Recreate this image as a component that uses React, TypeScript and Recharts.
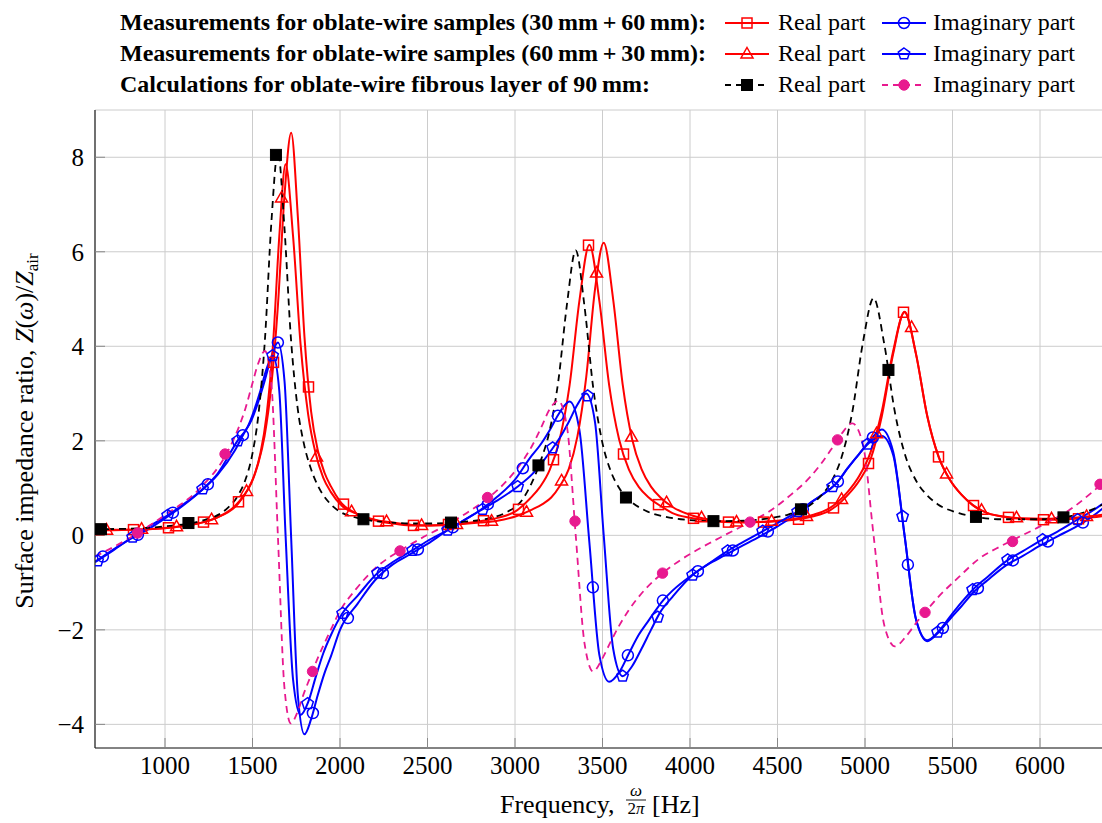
import React from 'react';
import { ComposedChart, Line, XAxis, YAxis, CartesianGrid } from 'recharts';

const FONT = '"Liberation Serif", "Times New Roman", Times, serif';

const xTicks = [1000, 1500, 2000, 2500, 3000, 3500, 4000, 4500, 5000, 5500, 6000];
const yTicks = [-4, -2, 0, 2, 4, 6, 8];

// Calculation (90 mm layer)
const calcFreq = [600, 800, 1000, 1201, 1349, 1423, 1460, 1497, 1534, 1571, 1608, 1645, 1682, 1719, 1756, 1793, 1830, 1867, 1941, 2000, 2089, 2200, 2300, 2400, 2500, 2600, 2747, 2850, 2947, 3047, 3097, 3147, 3197, 3247, 3297, 3347, 3397, 3447, 3497, 3547, 3597, 3647, 3747, 3850, 3947, 4150, 4317, 4450, 4561, 4683, 4744, 4805, 4866, 4927, 4988, 5049, 5110, 5171, 5232, 5293, 5354, 5415, 5537, 5650, 5781, 6000, 6200, 6300, 6400];
const calcReal = [0.13, 0.14, 0.19, 0.30, 0.55, 0.88, 1.18, 1.68, 2.56, 4.14, 6.63, 8.12, 6.54, 4.2, 2.75, 1.95, 1.45, 1.1, 0.68, 0.5, 0.38, 0.3, 0.27, 0.25, 0.25, 0.26, 0.30, 0.36, 0.48, 0.78, 1.12, 1.58, 2.2, 3.25, 4.89, 6.03, 4.85, 3.12, 2.0, 1.36, 0.99, 0.77, 0.52, 0.4, 0.34, 0.30, 0.31, 0.36, 0.44, 0.63, 0.82, 1.12, 1.65, 2.60, 4.08, 5.02, 4.05, 2.60, 1.67, 1.15, 0.85, 0.66, 0.47, 0.38, 0.34, 0.34, 0.43, 0.55, 0.74];
const calcImag = [-0.45, -0.05, 0.43, 1.0, 1.71, 2.30, 2.69, 3.18, 3.65, 3.9, 3.2, 0.0, -3.2, -3.98, -3.75, -3.35, -3.0, -2.65, -2.05, -1.6, -1.15, -0.7, -0.42, -0.2, 0.01, 0.2, 0.53, 0.8, 1.13, 1.59, 1.89, 2.26, 2.66, 2.85, 2.3, 0.0, -2.28, -2.88, -2.62, -2.25, -1.9, -1.6, -1.13, -0.78, -0.52, -0.09, 0.23, 0.5, 0.81, 1.22, 1.49, 1.81, 2.15, 2.37, 1.93, 0.0, -1.9, -2.35, -2.15, -1.85, -1.58, -1.32, -0.88, -0.5, -0.22, 0.19, 0.62, 0.92, 1.24];

// Measurements 30 mm + 60 mm
const m1Freq = [600, 700, 800, 900, 1000, 1100, 1200, 1300, 1400, 1450, 1493, 1531, 1569, 1607, 1645, 1683, 1721, 1759, 1797, 1835, 1873, 1911, 1949, 2000, 2100, 2200, 2300, 2400, 2500, 2600, 2700, 2800, 2900, 3000, 3086, 3142, 3199, 3255, 3312, 3368, 3425, 3482, 3538, 3595, 3651, 3708, 3764, 3850, 3900, 4000, 4100, 4200, 4300, 4400, 4500, 4600, 4700, 4800, 4836, 4901, 4966, 5031, 5096, 5161, 5226, 5291, 5356, 5421, 5486, 5551, 5616, 5700, 5800, 5900, 6000, 6100, 6200, 6300, 6400];
const m1Real = [0.12, 0.12, 0.12, 0.13, 0.15, 0.19, 0.26, 0.38, 0.62, 0.84, 1.1, 1.5, 2.1, 3.15, 4.85, 7.2, 8.52, 6.75, 4.2, 2.62, 1.8, 1.33, 1.03, 0.72, 0.45, 0.32, 0.25, 0.21, 0.21, 0.22, 0.25, 0.3, 0.37, 0.5, 0.78, 1.02, 1.39, 2.03, 3.18, 4.96, 6.15, 4.96, 3.18, 2.03, 1.39, 1.02, 0.80, 0.58, 0.47, 0.37, 0.31, 0.28, 0.27, 0.28, 0.30, 0.33, 0.40, 0.53, 0.62, 0.85, 1.15, 1.6, 2.52, 3.84, 4.73, 3.84, 2.52, 1.66, 1.17, 0.86, 0.64, 0.47, 0.39, 0.35, 0.33, 0.33, 0.35, 0.38, 0.43];
const m1Imag = [-0.56, -0.31, -0.08, 0.12, 0.36, 0.62, 0.92, 1.28, 1.8, 2.15, 2.43, 2.80, 3.26, 3.77, 4.08, 3.26, -0.06, -3.38, -4.21, -3.89, -3.38, -2.92, -2.55, -2.0, -1.45, -0.95, -0.62, -0.4, -0.18, 0.07, 0.3, 0.53, 0.82, 1.18, 1.64, 1.90, 2.23, 2.60, 2.83, 2.23, -0.15, -2.53, -3.1, -2.90, -2.5, -2.1, -1.8, -1.36, -1.17, -0.87, -0.62, -0.42, -0.22, -0.02, 0.19, 0.43, 0.72, 0.98, 1.1, 1.42, 1.72, 2.02, 2.24, 1.77, 0.0, -1.77, -2.24, -2.05, -1.77, -1.5, -1.22, -0.95, -0.65, -0.44, -0.22, -0.02, 0.17, 0.4, 0.7];

// Measurements 60 mm + 30 mm
const m2Freq = [600, 700, 813, 900, 1013, 1100, 1222, 1300, 1416, 1473, 1509, 1545, 1581, 1617, 1653, 1689, 1732, 1775, 1818, 1861, 1904, 1947, 2012, 2100, 2212, 2300, 2412, 2500, 2600, 2700, 2800, 2900, 3018, 3100, 3157, 3207, 3257, 3307, 3357, 3407, 3457, 3507, 3561, 3615, 3669, 3723, 3777, 3831, 3900, 4012, 4100, 4216, 4300, 4422, 4500, 4600, 4700, 4800, 4836, 4901, 4966, 5031, 5096, 5161, 5226, 5291, 5356, 5421, 5486, 5551, 5616, 5700, 5813, 5900, 6013, 6100, 6213, 6300, 6400];
const m2Real = [0.11, 0.11, 0.12, 0.13, 0.16, 0.2, 0.28, 0.38, 0.66, 0.97, 1.26, 1.73, 2.56, 4.03, 6.32, 7.85, 6.32, 4.03, 2.56, 1.73, 1.22, 0.92, 0.62, 0.45, 0.32, 0.27, 0.22, 0.21, 0.22, 0.24, 0.27, 0.31, 0.42, 0.55, 0.66, 0.80, 1.05, 1.40, 2.1, 3.35, 5.2, 6.19, 4.99, 3.20, 2.04, 1.40, 1.03, 0.80, 0.6, 0.42, 0.34, 0.29, 0.28, 0.29, 0.31, 0.35, 0.43, 0.58, 0.68, 0.92, 1.25, 1.75, 2.62, 3.9, 4.72, 3.85, 2.52, 1.66, 1.17, 0.86, 0.64, 0.47, 0.39, 0.36, 0.35, 0.36, 0.38, 0.41, 0.46];
const m2Imag = [-0.57, -0.33, -0.04, 0.17, 0.42, 0.64, 1.0, 1.3, 2.01, 2.30, 2.64, 3.06, 3.53, 3.80, 3.06, 0.0, -3.06, -3.80, -3.53, -3.0, -2.5, -2.12, -1.66, -1.28, -0.81, -0.57, -0.32, -0.12, 0.08, 0.3, 0.52, 0.74, 1.04, 1.3, 1.55, 1.80, 2.07, 2.40, 2.77, 3.00, 2.40, 0.0, -2.40, -2.98, -2.77, -2.40, -2.0, -1.62, -1.3, -0.85, -0.62, -0.33, -0.15, 0.1, 0.26, 0.47, 0.72, 0.98, 1.1, 1.42, 1.72, 1.98, 2.1, 1.7, 0.0, -1.77, -2.22, -2.03, -1.72, -1.42, -1.15, -0.88, -0.53, -0.34, -0.09, 0.08, 0.33, 0.52, 0.78];

// Marker samples
const m1RealMarkF = [620, 820, 1020, 1220, 1420, 1620, 1820, 2020, 2220, 2420, 2620, 2820, 3020, 3220, 3420, 3620, 3820, 4020, 4220, 4420, 4620, 4820, 5020, 5220, 5420, 5620, 5820, 6020, 6220];
const m1RealMarkV = [0.12, 0.12, 0.16, 0.28, 0.71, 3.66, 3.14, 0.66, 0.3, 0.21, 0.23, 0.31, 0.55, 1.6, 6.14, 1.72, 0.65, 0.36, 0.28, 0.28, 0.34, 0.58, 1.52, 4.72, 1.66, 0.63, 0.38, 0.33, 0.35];
const m1ImagMarkF = [645, 845, 1045, 1245, 1445, 1645, 1845, 2045, 2245, 2445, 2645, 2845, 3045, 3245, 3445, 3645, 3845, 4045, 4245, 4445, 4645, 4845, 5045, 5245, 5445, 5645, 5845, 6045, 6245];
const m1ImagMarkV = [-0.45, 0.01, 0.48, 1.08, 2.12, 4.08, -3.76, -1.75, -0.8, -0.3, 0.17, 0.66, 1.42, 2.53, -1.1, -2.54, -1.38, -0.76, -0.32, 0.08, 0.55, 1.14, 2.07, -0.62, -1.96, -1.12, -0.53, -0.13, 0.27];
const m2RealMarkF = [666, 866, 1066, 1266, 1466, 1666, 1866, 2066, 2266, 2466, 2666, 2866, 3066, 3266, 3466, 3666, 3866, 4066, 4266, 4466, 4666, 4866, 5066, 5266, 5466, 5666, 5866, 6066, 6266];
const m2RealMarkV = [0.11, 0.13, 0.18, 0.33, 0.93, 7.14, 1.66, 0.5, 0.29, 0.21, 0.23, 0.3, 0.49, 1.15, 5.55, 2.08, 0.69, 0.37, 0.28, 0.3, 0.4, 0.76, 2.15, 4.4, 1.3, 0.53, 0.37, 0.35, 0.4];
const m2ImagMarkF = [615, 815, 1015, 1215, 1415, 1615, 1815, 2015, 2215, 2415, 2615, 2815, 3015, 3215, 3415, 3615, 3815, 4015, 4215, 4415, 4615, 4815, 5015, 5215, 5415, 5615, 5815, 6015, 6215];
const m2ImagMarkV = [-0.54, -0.04, 0.42, 0.98, 2.0, 3.8, -3.56, -1.65, -0.8, -0.32, 0.11, 0.55, 1.03, 1.85, 2.95, -2.98, -1.73, -0.84, -0.33, 0.09, 0.5, 1.03, 1.93, 0.4, -2.05, -1.15, -0.52, -0.09, 0.33];
const calcRealMarkF = [634, 1134, 1634, 2134, 2634, 3134, 3634, 4134, 4634, 5134, 5634, 6134];
const calcRealMarkV = [0.13, 0.26, 8.05, 0.34, 0.27, 1.48, 0.8, 0.3, 0.55, 3.5, 0.39, 0.38];
const calcImagMarkF = [843, 1343, 1843, 2343, 2843, 3343, 3843, 4343, 4843, 5343, 5843, 6343];
const calcImagMarkV = [0.05, 1.72, -2.88, -0.33, 0.8, 0.3, -0.8, 0.28, 2.02, -1.63, -0.13, 1.08];

const legendRows = [
  'Measurements for oblate-wire samples (30\u2009mm\u2009+\u200960\u2009mm):',
  'Measurements for oblate-wire samples (60\u2009mm\u2009+\u200930\u2009mm):',
  'Calculations for oblate-wire fibrous layer of 90\u2009mm:',
];
const legendLabels = ['Real part', 'Imaginary part'];

const RED = '#ff0000';
const BLUE = '#0000ff';
const BLACK = '#000000';
const MAGENTA = '#e8198f';

const pts = (fs: number[], vs: number[]) => fs.map((f, i) => ({ f, v: vs[i] }));

type MP = { cx: number; cy: number; color: string };
const SquareMark = ({ cx, cy, color }: MP) => (
  <rect x={cx - 5} y={cy - 5} width={10} height={10} fill="none" stroke={color} strokeWidth={1.5} />
);
const CircleMark = ({ cx, cy, color }: MP) => (
  <circle cx={cx} cy={cy} r={5.5} fill="none" stroke={color} strokeWidth={1.5} />
);
const TriMark = ({ cx, cy, color }: MP) => (
  <polygon points={`${cx},${cy - 6.5} ${cx + 6},${cy + 4} ${cx - 6},${cy + 4}`} fill="none" stroke={color} strokeWidth={1.5} />
);
const PentMark = ({ cx, cy, color }: MP) => {
  const r = 6;
  const p = [0, 1, 2, 3, 4].map((k) => {
    const a = -Math.PI / 2 + (k * 2 * Math.PI) / 5;
    return `${cx + r * Math.cos(a)},${cy + r * Math.sin(a)}`;
  });
  return <polygon points={p.join(' ')} fill="none" stroke={color} strokeWidth={1.5} />;
};
const FSquareMark = ({ cx, cy, color }: MP) => (
  <rect x={cx - 5.5} y={cy - 5.5} width={11} height={11} fill={color} stroke={color} strokeWidth={1} />
);
const FCircleMark = ({ cx, cy, color }: MP) => <circle cx={cx} cy={cy} r={5.2} fill={color} stroke={color} />;

const markRenderer = (Comp: any, color: string) => (p: any) => {
  if (p.cx == null || p.cy == null) return <g key={`e${p.index}`} />;
  return <Comp key={`m${p.index}`} cx={p.cx} cy={p.cy} color={color} />;
};

const YLabel = () => (
  <text transform="translate(33,431) rotate(-90)" textAnchor="middle" fontFamily={FONT} fontSize={26} fill="#000">
    Surface impedance ratio, <tspan fontStyle="italic">Z</tspan>(<tspan fontStyle="italic">ω</tspan>)/<tspan fontStyle="italic">Z</tspan>
    <tspan fontSize={17} dy={5}>air</tspan>
  </text>
);

const XLabel = () => (
  <g fontFamily={FONT} fill="#000">
    <text x={500} y={813} fontSize={26}>Frequency,</text>
    <text x={636} y={796} fontSize={17} fontStyle="italic" textAnchor="middle">ω</text>
    <line x1={626} x2={646} y1={800} y2={800} stroke="#000" strokeWidth={0.9} />
    <text x={636} y={814} fontSize={17} textAnchor="middle">2<tspan fontStyle="italic">π</tspan></text>
    <text x={652} y={813} fontSize={26}>[Hz]</text>
  </g>
);

const LegendIcon = ({ x, y, color, dashed, Mark }: any) => (
  <g>
    <line x1={x - 22} x2={x + 22} y1={y} y2={y} stroke={color} strokeWidth={2} strokeDasharray={dashed ? '6 5' : undefined} />
    <Mark cx={x} cy={y} color={color} />
  </g>
);

const LegendBox = () => {
  const base = [30, 61, 92];
  const icons = [
    [{ c: RED, M: SquareMark, d: false }, { c: BLUE, M: CircleMark, d: false }],
    [{ c: RED, M: TriMark, d: false }, { c: BLUE, M: PentMark, d: false }],
    [{ c: BLACK, M: FSquareMark, d: true }, { c: MAGENTA, M: FCircleMark, d: true }],
  ];
  const widths = [586, 586, 530];
  return (
    <svg width={1102} height={105} style={{ position: 'absolute', left: 0, top: 0 }}>
      {legendRows.map((t, i) => (
        <g key={i}>
          <text x={120} y={base[i]} fontFamily={FONT} fontWeight="bold" fontSize={24} textLength={widths[i]} lengthAdjust="spacingAndGlyphs">
            {t}
          </text>
          <LegendIcon x={747} y={base[i] - 7} color={icons[i][0].c} dashed={icons[i][0].d} Mark={icons[i][0].M} />
          <text x={778} y={base[i]} fontFamily={FONT} fontSize={24}>{legendLabels[0]}</text>
          <LegendIcon x={904} y={base[i] - 7} color={icons[i][1].c} dashed={icons[i][1].d} Mark={icons[i][1].M} />
          <text x={933} y={base[i]} fontFamily={FONT} fontSize={24}>{legendLabels[1]}</text>
        </g>
      ))}
    </svg>
  );
};

const fmt = (v: number) => (v < 0 ? '\u2212' + Math.abs(v) : String(v));

export default function App() {
  const series = [
    { d: pts(m1Freq, m1Real), c: RED, dash: undefined, m: pts(m1RealMarkF, m1RealMarkV), M: SquareMark },
    { d: pts(m1Freq, m1Imag), c: BLUE, dash: undefined, m: pts(m1ImagMarkF, m1ImagMarkV), M: CircleMark },
    { d: pts(m2Freq, m2Real), c: RED, dash: undefined, m: pts(m2RealMarkF, m2RealMarkV), M: TriMark },
    { d: pts(m2Freq, m2Imag), c: BLUE, dash: undefined, m: pts(m2ImagMarkF, m2ImagMarkV), M: PentMark },
    { d: pts(calcFreq, calcReal), c: BLACK, dash: '7 5', m: pts(calcRealMarkF, calcRealMarkV), M: FSquareMark },
    { d: pts(calcFreq, calcImag), c: MAGENTA, dash: '7 5', m: pts(calcImagMarkF, calcImagMarkV), M: FCircleMark },
  ];
  const tickStyle = { fontSize: 25, fill: '#000', fontFamily: FONT };
  return (
    <div style={{ position: 'absolute', left: 0, top: 0, width: 1102, height: 823, overflow: 'hidden', background: '#fff' }}>
      <LegendBox />
      <ComposedChart width={1110} height={823} margin={{ top: 110, right: 0, bottom: 0, left: 0 }}>
        <CartesianGrid stroke="#cccccc" strokeWidth={1} />
        <XAxis
          type="number"
          dataKey="f"
          domain={[600, 6400]}
          ticks={xTicks}
          interval={0}
          allowDataOverflow
          height={75}
          tickSize={-10}
          tickMargin={18}
          tick={tickStyle}
          axisLine={{ stroke: '#222', strokeWidth: 1.2 }}
          tickLine={{ stroke: '#888' }}
          label={{ content: () => <XLabel /> }}
        />
        <XAxis
          xAxisId="top"
          orientation="top"
          type="number"
          dataKey="f"
          domain={[600, 6400]}
          ticks={xTicks}
          interval={0}
          allowDataOverflow
          height={0}
          tickSize={-10}
          tick={false}
          axisLine={{ stroke: '#222', strokeWidth: 1.2 }}
          tickLine={{ stroke: '#888' }}
        />
        <YAxis
          type="number"
          domain={[-4.5, 9]}
          ticks={yTicks}
          interval={0}
          allowDataOverflow
          width={95}
          tickSize={-10}
          tickMargin={21}
          tick={tickStyle}
          tickFormatter={fmt}
          axisLine={{ stroke: '#222', strokeWidth: 1.2 }}
          tickLine={{ stroke: '#888' }}
          label={{ content: () => <YLabel /> }}
        />
        {series.map((s, i) => (
          <Line
            key={`l${i}`}
            data={s.d}
            dataKey="v"
            type="monotone"
            stroke={s.c}
            strokeWidth={s.dash ? 1.8 : 2}
            strokeDasharray={s.dash}
            dot={false}
            activeDot={false}
            isAnimationActive={false}
            legendType="none"
          />
        ))}
        {series.map((s, i) => (
          <Line
            key={`m${i}`}
            data={s.m}
            dataKey="v"
            stroke="none"
            dot={markRenderer(s.M, s.c)}
            activeDot={false}
            isAnimationActive={false}
            legendType="none"
          />
        ))}
      </ComposedChart>
    </div>
  );
}
